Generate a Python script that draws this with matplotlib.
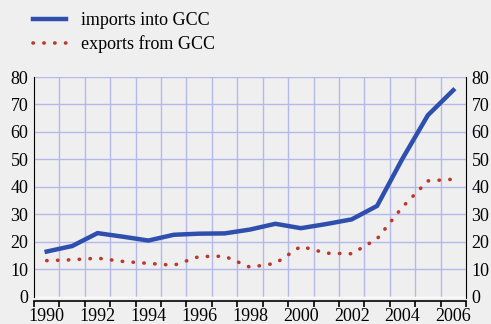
import numpy as np
import matplotlib.pyplot as plt
from matplotlib.lines import Line2D

years = list(range(1990, 2007))
imports_gcc = [16.5, 18.5, 23.2, 21.9, 20.5, 22.6, 23.0, 23.1, 24.5, 26.6,
               25.0, 26.5, 28.2, 33.1, 50.3, 66.1, 75.2]
exports_gcc = [13.2, 13.5, 14.1, 12.9, 12.2, 11.5, 14.7, 14.8, 10.8, 12.2,
               18.4, 15.9, 15.7, 21.1, 32.7, 42.2, 42.8]
yticks = [0, 10, 20, 30, 40, 50, 60, 70, 80]
xlabels = [str(y) for y in years[::2]]

bg = '#efefef'
grid_c = '#b4b8ea'
blue = '#2f4fae'
red = '#b83a2c'

plt.rcParams['font.family'] = ['Liberation Serif', 'DejaVu Serif']

fig = plt.figure(figsize=(4.91, 3.24), dpi=100, facecolor=bg)
ax = fig.add_axes([34 / 491, (324 - 298) / 324, 432 / 491, 221 / 324])
ax.set_facecolor(bg)

x = np.arange(len(years))
ax.set_xlim(-0.5, len(years) - 0.5)
ax.set_ylim(-0.4, 80)

# grid at year boundaries and every 10 units
for b in np.arange(0.5, len(years) - 0.5, 1):
    ax.axvline(b, color=grid_c, lw=1, zorder=1)
for v in yticks[1:]:
    ax.axhline(v, color=grid_c, lw=1, zorder=1)
ax.axhline(0, color='white', lw=1, zorder=1)

ax.plot(x, imports_gcc, color=blue, lw=3.2, solid_joinstyle='miter', zorder=3)
ax.plot(x, exports_gcc, color=red, lw=2.6, linestyle=(0, (0.1, 2.9)),
        dash_capstyle='round', zorder=3)

ax.spines['top'].set_visible(False)
ax.spines['left'].set_bounds(0, 80)
ax.spines['bottom'].set_position(('outward', 2))
ax.spines['bottom'].set_linewidth(1.2)

ax.set_yticks(yticks)
ax.tick_params(axis='y', length=0, labelsize=13, left=True, right=True,
               labelleft=True, labelright=True, pad=4)

ax.set_xticks(np.arange(-0.5, len(years), 1))
ax.set_xticklabels([])
ax.set_xticks(x[::2], minor=True)
ax.set_xticklabels(xlabels, minor=True)
ax.tick_params(axis='x', which='major', direction='out', length=4, width=1.2)
ax.tick_params(axis='x', which='minor', length=0, labelsize=13, pad=5)

# legend drawn at the top of the figure
handles = [Line2D([], [], color=blue, lw=3.2),
           Line2D([], [], color=red, lw=2.6, linestyle=(0, (0.1, 2.9)),
                  dash_capstyle='round')]
fig.legend(handles, ['imports into GCC', 'exports from GCC'],
           loc='upper left', bbox_to_anchor=(33 / 491, 1 - 12 / 324),
           frameon=False, fontsize=13, handlelength=1.8, handletextpad=0.85,
           labelspacing=0.35, borderaxespad=0, borderpad=0)

fig.savefig('out.png', dpi=100, facecolor=bg)
